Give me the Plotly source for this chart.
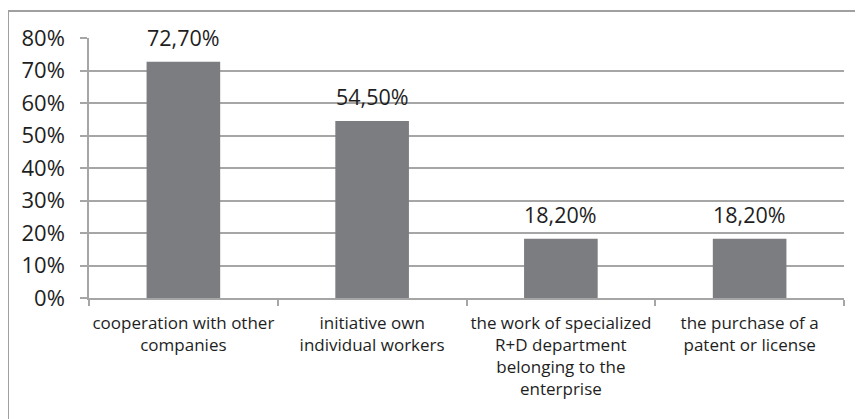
import plotly.graph_objects as go

categories = [
    "cooperation with other<br>companies",
    "initiative own<br>individual workers",
    "the work of specialized<br>R+D department<br>belonging to the<br>enterprise",
    "the purchase of a<br>patent or license",
]
values = [72.7, 54.5, 18.2, 18.2]
y_ticks = [0, 10, 20, 30, 40, 50, 60, 70, 80]
y_tick_labels = [f"{t}%" for t in y_ticks]
value_labels = [f"{v:.2f}".replace(".", ",") + "%" for v in values]

OFF = 8  # page body margin
W, H = 863 - OFF, 419 - OFF
ML, MR, MT, MB = 89 - OFF, 19, 38 - OFF, 121
FONT = "Open Sans"
TXT = "#1e1e1e"
GRID = "#a6a6a6"

fig = go.Figure(go.Bar(
    x=categories, y=values,
    marker=dict(color="#7c7d81", line=dict(width=0)),
    hoverinfo="skip",
))

for c, v, lab in zip(categories, values, value_labels):
    fig.add_annotation(x=c, y=v, text=lab, showarrow=False,
                       yanchor="middle", yshift=24,
                       font=dict(family=FONT, size=21.5, color=TXT))

pw = W - ML - MR
ph = H - MT - MB
x_left = (7 - OFF + 1 - ML) / pw
y_top = 1 + (MT - (10 - OFF + 1)) / ph
y_bot = 1 - (H + 5 - MT) / ph
x_right = 1 + (W + 5 - ML) / pw
fig.add_shape(type="line", xref="paper", yref="paper", x0=x_left, x1=x_left,
              y0=y_bot, y1=y_top, line=dict(color="#a0a0a0", width=2))
fig.add_shape(type="line", xref="paper", yref="paper", x0=x_left, x1=x_right,
              y0=y_top, y1=y_top, line=dict(color="#a0a0a0", width=2))

fig.update_layout(
    width=W, height=H,
    margin=dict(l=ML, r=MR, t=MT, b=MB, autoexpand=False),
    paper_bgcolor="white", plot_bgcolor="white",
    bargap=0.61,
    showlegend=False,
    xaxis=dict(
        type="category", tickson="boundaries", ticks="outside", ticklen=6,
        tickcolor=GRID, tickwidth=1.5, showline=True, linecolor=GRID, linewidth=1.5,
        showgrid=False, tickfont=dict(family=FONT, size=17, color=TXT),
        ticklabelstandoff=9, tickangle=0, automargin=False,
    ),
    yaxis=dict(
        range=[0, 80], tickvals=y_ticks, ticktext=y_tick_labels,
        ticks="outside", ticklen=7, tickcolor=GRID, tickwidth=1.5,
        showline=True, linecolor=GRID, linewidth=1.5,
        showgrid=True, gridcolor=GRID, gridwidth=1.5, zeroline=False,
        tickfont=dict(family=FONT, size=22, color=TXT),
        ticklabelstandoff=11, automargin=False,
    ),
)

fig.write_html("out.html")
